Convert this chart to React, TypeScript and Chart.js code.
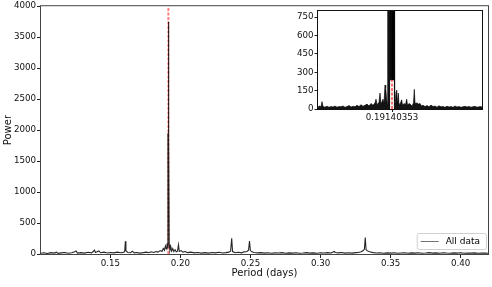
import React, { useEffect, useRef } from "react";
import { Chart, registerables } from "chart.js";

Chart.register(...registerables);

const FONT = "DejaVu Sans";
const PEAK_PERIOD = 0.19140353;
const PEAK_LABEL = "0.19140353";
const SERIES_LABEL = "All data";

const mainPeriod = [
  0.1005, 0.1025, 0.105, 0.1075, 0.11, 0.1115, 0.1125, 0.115, 0.1175, 0.12, 0.1225, 0.1245, 0.1255, 0.1265,
  0.129, 0.1315, 0.134, 0.1365, 0.1378, 0.1386, 0.1394, 0.1405, 0.1418, 0.143, 0.1455, 0.148, 0.15, 0.1525,
  0.155, 0.1575, 0.1597, 0.1603, 0.1607, 0.1611, 0.1625, 0.1645, 0.1657, 0.167, 0.169, 0.171, 0.1735, 0.1757,
  0.1775, 0.179, 0.181, 0.1825, 0.184, 0.1855, 0.1868, 0.1878, 0.1886, 0.1893, 0.1899, 0.1904, 0.1908, 0.1911,
  0.19125, 0.1914, 0.19155, 0.1917, 0.192, 0.1925, 0.1931, 0.1937, 0.1945, 0.1952, 0.1962, 0.197, 0.1979,
  0.1986, 0.1992, 0.2005, 0.2018, 0.2035, 0.205, 0.2075, 0.21, 0.2125, 0.215, 0.2175, 0.22, 0.2225, 0.225,
  0.2275, 0.23, 0.2325, 0.2345, 0.2358, 0.2366, 0.2372, 0.239, 0.2415, 0.2435, 0.2455, 0.2475, 0.2486, 0.2493,
  0.2499, 0.251, 0.2525, 0.255, 0.2575, 0.26, 0.2625, 0.265, 0.2675, 0.27, 0.2725, 0.275, 0.2775, 0.28, 0.2825,
  0.285, 0.2875, 0.29, 0.2925, 0.295, 0.2975, 0.3, 0.3025, 0.305, 0.3075, 0.3098, 0.3105, 0.3125, 0.315, 0.3175,
  0.32, 0.3225, 0.325, 0.327, 0.329, 0.3305, 0.3313, 0.3319, 0.3325, 0.3335, 0.335, 0.3375, 0.34, 0.3425, 0.345,
  0.3475, 0.35, 0.3525, 0.355, 0.3575, 0.36, 0.3625, 0.365, 0.3675, 0.37, 0.3725, 0.375, 0.3775, 0.38, 0.3825,
  0.385, 0.3875, 0.39, 0.3925, 0.395, 0.3975, 0.4, 0.4025, 0.405, 0.4075, 0.41, 0.4125, 0.415, 0.4175, 0.4195,
];
const mainPower = [
  12, 20, 8, 22, 15, 30, 10, 18, 25, 12, 20, 35, 50, 15,
  22, 14, 28, 18, 40, 65, 25, 35, 50, 20, 30, 16, 25, 18,
  30, 20, 28, 60, 205, 50, 25, 20, 45, 18, 25, 15, 22, 30,
  20, 35, 25, 40, 30, 55, 40, 90, 60, 130, 80, 170, 110, 1950,
  600, 3750, 700, 1900, 150, 60, 120, 50, 90, 40, 70, 35, 45,
  150, 40, 55, 30, 40, 22, 30, 18, 25, 15, 22, 14, 25, 18,
  28, 16, 22, 30, 45, 255, 40, 20, 28, 18, 35, 40, 60, 210,
  55, 35, 25, 18, 22, 14, 20, 12, 18, 15, 22, 12, 18, 14, 20,
  12, 16, 22, 14, 18, 12, 20, 15, 22, 16, 40, 25, 18, 25, 15,
  20, 14, 22, 25, 35, 55, 80, 265, 70, 50, 35, 22, 16, 20, 12,
  18, 14, 20, 12, 16, 20, 12, 18, 14, 20, 12, 16, 22, 14, 18,
  12, 20, 15, 12, 18, 14, 20, 12, 16, 14, 18, 12, 16, 14, 12,
];
const mainTicksX = [0.15, 0.2, 0.25, 0.3, 0.35, 0.4];
const mainTicksY = [0, 500, 1000, 1500, 2000, 2500, 3000, 3500, 4000];

// inset: offsets from the peak period, in units of 1e-4 days
const insetOffset = [
  -74, -73, -71, -70, -69, -67, -65, -63, -61, -59, -57, -55, -53, -51, -49, -47, -45, -43, -41, -39, -37,
  -35, -33, -31, -29, -27, -25, -23, -21, -19, -17, -16, -15, -13, -12, -11, -10, -9, -8, -7, -6.3, -5.5,
  -4.6, -4.3, -3.6, -3, -2.4, -1.7, -1.45, -1.2, -0.95, -0.7, -0.45, -0.2, 0, 0.2, 0.45, 0.7, 0.95, 1.2, 1.45,
  1.7, 2.3, 2.6, 3.3, 4, 4.7, 5.4,
  6.3, 7, 8.5, 9.7, 10.5, 12, 13.5, 14.7, 15.5, 17, 18, 20, 21.5, 22.3, 23, 25, 26.5, 28, 29.5, 31, 33, 35, 37,
  39, 41, 43, 45, 47, 49, 51, 53, 55, 57, 59, 61, 63, 65, 67, 69, 71, 73, 75, 77, 79, 81, 83, 85, 87, 89, 90,
];
const insetPower = [
  10, 25, 18, 60, 20, 15, 22, 14, 20, 16, 24, 15, 20, 18, 25, 14, 20, 28, 16, 22, 18,
  30, 20, 35, 22, 30, 40, 25, 45, 30, 50, 80, 35, 55, 130, 40, 60, 80, 45, 195, 175, 90,
  30, 1500, 2500, 3200, 3000, 2800, 235, 3000, 240, 3200, 245, 3500, 3750, 3500, 245, 3200, 240, 3000, 235,
  2800, 2000, 60, 40, 140, 155, 40,
  130, 35, 50, 75, 30, 45, 35, 80, 30, 45, 40, 25, 50, 160, 45, 50, 40, 45, 25, 30, 20, 28, 18, 32, 20,
  24, 15, 26, 18, 20, 14, 22, 16, 20, 14, 24, 16, 20, 14, 18, 22, 16, 20, 15, 18, 22, 14, 18, 20, 15,
];
const insetTicksY = [0, 150, 300, 450, 600, 750];
const INSET_MIN_OFF = -74;
const INSET_MAX_OFF = 90;
const INSET_YMAX = 800;
const MAIN_LOBE_HALF = 1.7; // central lobe drawn as an unfilled line

const framePlugin = (color: string, fillWhite: boolean) => ({
  id: "frame" + (fillWhite ? "W" : "M"),
  beforeDatasetsDraw(chart: any) {
    if (!fillWhite) return;
    const { left, top, right, bottom } = chart.chartArea;
    const ctx = chart.ctx;
    ctx.save();
    ctx.fillStyle = "#fff";
    ctx.fillRect(left, top, right - left, bottom - top);
    ctx.restore();
  },
  afterDatasetsDraw(chart: any) {
    const { left, top, right, bottom } = chart.chartArea;
    const ctx = chart.ctx;
    ctx.save();
    ctx.strokeStyle = color;
    ctx.lineWidth = 1;
    ctx.strokeRect(left - 0.5, top - 0.5, right - left + 1, bottom - top + 1);
    ctx.restore();
  },
});

const legendPlugin = {
  id: "innerLegend",
  afterDraw(chart: any) {
    const ds = chart.data.datasets[0];
    const ctx = chart.ctx;
    const { right, bottom } = chart.chartArea;
    ctx.save();
    ctx.font = `9px "${FONT}"`;
    const tw = ctx.measureText(ds.label).width;
    const w = 4 + 18 + 7 + tw + 6;
    const h = 16;
    const x = right - 2 - w;
    const y = bottom - 5 - h;
    ctx.beginPath();
    if ((ctx as any).roundRect) (ctx as any).roundRect(x + 0.5, y + 0.5, w, h, 2);
    else ctx.rect(x + 0.5, y + 0.5, w, h);
    ctx.fillStyle = "rgba(255,255,255,0.8)";
    ctx.fill();
    ctx.strokeStyle = "#d0d0d0";
    ctx.lineWidth = 1;
    ctx.stroke();
    ctx.beginPath();
    ctx.moveTo(x + 4, y + h / 2 + 0.5);
    ctx.lineTo(x + 22, y + h / 2 + 0.5);
    ctx.strokeStyle = "rgba(0,0,0,0.55)";
    ctx.lineWidth = 1;
    ctx.stroke();
    ctx.fillStyle = "#000";
    ctx.textBaseline = "middle";
    ctx.textAlign = "left";
    ctx.fillText(ds.label, x + 29, y + h / 2 + 1);
    ctx.restore();
  },
};

export default function App() {
  const mainRef = useRef<HTMLCanvasElement>(null);
  const insetRef = useRef<HTMLCanvasElement>(null);

  useEffect(() => {
    Chart.defaults.font.family = FONT;
    const tickFont = { family: FONT, size: 8.7 };
    const titleFont = { family: FONT, size: 10 };

    const main = new Chart(mainRef.current as HTMLCanvasElement, {
      type: "line",
      data: {
        datasets: [
          {
            label: SERIES_LABEL,
            data: mainPeriod.map((x, i) => ({ x, y: mainPower[i] })),
            borderColor: "rgba(0,0,0,0.85)",
            borderWidth: 1.1,
            pointRadius: 0,
            tension: 0,
          },
          {
            label: "peak",
            data: [
              { x: PEAK_PERIOD, y: 0 },
              { x: PEAK_PERIOD, y: 4000 },
            ],
            borderColor: "rgba(255,0,0,0.5)",
            borderDash: [3, 1.5],
            borderWidth: 2,
            pointRadius: 0,
          },
        ],
      },
      options: {
        animation: false,
        responsive: false,
        devicePixelRatio: 1,
        layout: { padding: { top: 5, right: 4, left: 0, bottom: 0 } },
        plugins: { legend: { display: false }, tooltip: { enabled: false } },
        scales: {
          x: {
            type: "linear",
            min: 0.1005,
            max: 0.4195,
            afterBuildTicks: (s: any) => {
              s.ticks = mainTicksX.map((v) => ({ value: v }));
            },
            afterFit: (s: any) => {
              s.height = 33;
            },
            ticks: {
              callback: (v: any) => Number(v).toFixed(2),
              font: tickFont,
              color: "#111",
              padding: 1,
              maxRotation: 0,
              autoSkip: false,
            },
            grid: { drawOnChartArea: false, drawTicks: true, tickLength: 4, tickColor: "#222" },
            border: { display: false },
            title: {
              display: true,
              text: "Period (days)",
              font: titleFont,
              color: "#111",
              padding: { top: 0, bottom: 8 },
            },
          },
          y: {
            type: "linear",
            min: 0,
            max: 4000,
            afterBuildTicks: (s: any) => {
              s.ticks = mainTicksY.map((v) => ({ value: v }));
            },
            afterFit: (s: any) => {
              s.width = 41;
            },
            ticks: { callback: (v: any) => String(v), font: tickFont, color: "#111", padding: 1 },
            grid: { drawOnChartArea: false, drawTicks: true, tickLength: 4, tickColor: "#222" },
            border: { display: false },
            title: {
              display: true,
              text: "Power",
              font: titleFont,
              color: "#111",
              padding: { top: 2, bottom: 0 },
            },
          },
        },
      },
      plugins: [framePlugin("#444", false), legendPlugin],
    } as any);

    const filledPart = insetOffset.map((o, i) => ({
      x: o,
      y: Math.abs(o) < MAIN_LOBE_HALF ? null : insetPower[i],
    }));
    const lobePart = insetOffset
      .map((o, i) => ({ x: o, y: insetPower[i] }))
      .filter((p) => Math.abs(p.x) <= MAIN_LOBE_HALF);

    const inset = new Chart(insetRef.current as HTMLCanvasElement, {
      type: "line",
      data: {
        datasets: [
          {
            label: SERIES_LABEL,
            data: filledPart,
            borderColor: "rgba(0,0,0,0.8)",
            backgroundColor: "rgba(0,0,0,0.92)",
            fill: "origin",
            spanGaps: false,
            borderWidth: 0.8,
            pointRadius: 0,
            tension: 0,
          },
          {
            label: SERIES_LABEL,
            data: lobePart,
            borderColor: "rgba(0,0,0,0.9)",
            fill: false,
            borderWidth: 1,
            pointRadius: 0,
            tension: 0,
          },
          {
            label: "peak",
            data: [
              { x: 0, y: 0 },
              { x: 0, y: INSET_YMAX },
            ],
            borderColor: "rgba(255,0,0,0.55)",
            borderDash: [3, 1.5],
            borderWidth: 2,
            pointRadius: 0,
            fill: false,
          },
        ],
      },
      options: {
        animation: false,
        responsive: false,
        devicePixelRatio: 1,
        layout: { padding: { top: 11, right: 8, left: 0, bottom: 0 } },
        plugins: { legend: { display: false }, tooltip: { enabled: false } },
        scales: {
          x: {
            type: "linear",
            min: INSET_MIN_OFF,
            max: INSET_MAX_OFF,
            afterBuildTicks: (s: any) => {
              s.ticks = [{ value: 0 }];
            },
            afterFit: (s: any) => {
              s.height = 16;
            },
            ticks: {
              callback: () => PEAK_LABEL,
              font: tickFont,
              color: "#111",
              padding: 1,
              maxRotation: 0,
              autoSkip: false,
            },
            grid: { drawOnChartArea: false, drawTicks: true, tickLength: 3, tickColor: "#222" },
            border: { display: false },
          },
          y: {
            type: "linear",
            min: 0,
            max: INSET_YMAX,
            afterBuildTicks: (s: any) => {
              s.ticks = insetTicksY.map((v) => ({ value: v }));
            },
            afterFit: (s: any) => {
              s.width = 28;
            },
            ticks: { callback: (v: any) => String(v), font: tickFont, color: "#111", padding: 1 },
            grid: { drawOnChartArea: false, drawTicks: true, tickLength: 3.5, tickColor: "#222" },
            border: { display: false },
          },
        },
      },
      plugins: [framePlugin("#111", true)],
    } as any);

    return () => {
      main.destroy();
      inset.destroy();
    };
  }, []);

  return (
    <div
      style={{
        position: "fixed",
        left: 0,
        top: 0,
        width: 492,
        height: 287,
        background: "#fff",
        overflow: "hidden",
      }}
    >
      <canvas
        ref={mainRef}
        width={492}
        height={287}
        style={{ position: "absolute", left: 0, top: 0, width: 492, height: 287 }}
      />
      <canvas
        ref={insetRef}
        width={200}
        height={125}
        style={{ position: "absolute", left: 290, top: 0, width: 200, height: 125 }}
      />
    </div>
  );
}
